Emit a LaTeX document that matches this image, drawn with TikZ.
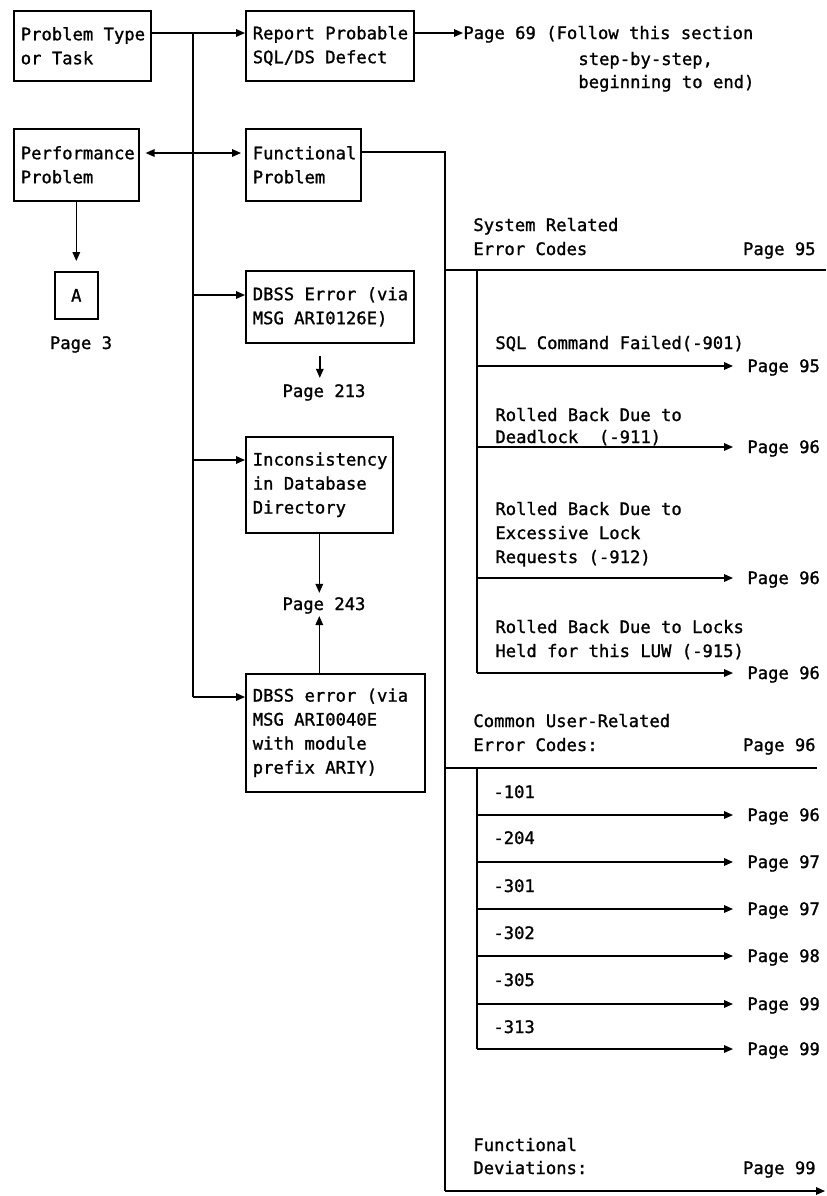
\documentclass[tikz,border=0pt]{standalone}
\usepackage{fontspec}
\newfontfamily\diagmono[WordSpace={1,0,0},FakeBold=1.2]{DejaVu Sans Mono}
\usetikzlibrary{arrows.meta,calc}
\tikzset{
  txt/.style={font=\fontsize{8.6}{12}\selectfont\diagmono, inner sep=0pt},
  box/.style={draw, line width=0.8pt, font=\fontsize{8.6}{12}\selectfont\diagmono,
              inner xsep=3.5pt, inner ysep=0pt, align=left, anchor=north west,
              execute at begin node={\spaceskip=0pt\xspaceskip=0pt}},
  conn/.style={line width=0.7pt},
  arr/.style={conn, -{Triangle[length=4.5pt,width=3.8pt]}},
  darr/.style={conn, {Triangle[length=4.5pt,width=3.8pt]}-{Triangle[length=4.5pt,width=3.8pt]}},
}
\begin{document}
\begin{tikzpicture}[x=0.5pt,y=-0.5pt]
\useasboundingbox (0,0) rectangle (826,1196);

% boxes
\node[box, text width=61.5pt, minimum height=35pt] (ptype) at (13,10) {\mbox{Problem Type}\\\mbox{or Task}};
\node[box, text width=77pt, minimum height=35pt] (report) at (245,10) {\mbox{Report Probable}\\\mbox{SQL/DS Defect}};
\node[box, text width=55.5pt, minimum height=36pt] (perf) at (13,128) {\mbox{Performance}\\\mbox{Problem}};
\node[box, text width=50.5pt, minimum height=36pt] (func) at (245,128) {\mbox{Functional}\\\mbox{Problem}};
\node[box, text width=14.5pt, minimum height=23.5pt, align=center] (A) at (54,271) {A};
\node[box, text width=77pt, minimum height=36pt] (dbss1) at (245,270) {\mbox{DBSS Error (via}\\\mbox{MSG ARI0126E)}};
\node[box, text width=66.5pt, minimum height=48pt] (incons) at (245,436) {\mbox{Inconsistency}\\\mbox{in Database}\\\mbox{Directory}};
\node[box, text width=82.5pt, minimum height=59pt] (dbss2) at (245,673) {\mbox{DBSS error (via}\\\mbox{MSG ARI0040E}\\\mbox{with module}\\\mbox{prefix ARIY)}};

% texts
\node[txt, anchor=base west] (p69a) at (463,39) {Page 69 (Follow this section};
\node[txt, anchor=base west] (p69b) at (578,65) {step-by-step,};
\node[txt, anchor=base west] (p69c) at (578,88) {beginning to end)};
\node[txt, anchor=base] (p3) at (81,349) {Page 3};
\node[txt, anchor=base] (p213) at (324,397) {Page 213};
\node[txt, anchor=base] (p243) at (324,610) {Page 243};

\node[txt, anchor=base west] (sr1) at (473,231) {System Related};
\node[txt, anchor=base west] (sr2) at (473,255) {Error Codes};
\node[txt, anchor=base east] (srp) at (816,255) {Page 95};
\node[txt, anchor=base west] (l901) at (495,349) {SQL Command Failed(-901)};
\node[txt, anchor=base west] (l911a) at (495,421) {Rolled Back Due to};
\node[txt, anchor=base west] (l911b) at (495,443) {Deadlock\ \ (-911)};
\node[txt, anchor=base west] (l912a) at (495,515) {Rolled Back Due to};
\node[txt, anchor=base west] (l912b) at (495,539) {Excessive Lock};
\node[txt, anchor=base west] (l912c) at (495,563) {Requests (-912)};
\node[txt, anchor=base west] (l915a) at (495,633) {Rolled Back Due to Locks};
\node[txt, anchor=base west] (l915b) at (495,657) {Held for this LUW (-915)};

\node[txt, anchor=base west] (cu1) at (473,727) {Common User-Related};
\node[txt, anchor=base west] (cu2) at (473,751) {Error Codes:};
\node[txt, anchor=base east] (cup) at (816,751) {Page 96};
\node[txt, anchor=base west] (c101) at (493,798) {-101};
\node[txt, anchor=base west] (c204) at (493,844) {-204};
\node[txt, anchor=base west] (c301) at (493,892) {-301};
\node[txt, anchor=base west] (c302) at (493,939) {-302};
\node[txt, anchor=base west] (c305) at (493,986) {-305};
\node[txt, anchor=base west] (c313) at (493,1033) {-313};

\node[txt, anchor=base west] (fd1) at (473,1151) {Functional};
\node[txt, anchor=base west] (fd2) at (473,1174) {Deviations:};
\node[txt, anchor=base east] (fdp) at (816,1174) {Page 99};

% top connectors
\draw[arr] ([yshift=-11.5pt]ptype.north east) -- ([yshift=-11.5pt]report.north west);
\coordinate (p69in) at ($(report.north east)+(0,23)$);
\draw[arr] (p69in) -- (p69in -| p69a.west);

\coordinate (trtop) at (193,33);
\coordinate (d1in) at ($(dbss1.north west)+(0,25)$);
\coordinate (icin) at ($(incons.north west)+(0,24)$);
\coordinate (d2in) at ($(dbss2.north west)+(0,24)$);
\draw[conn] (trtop) -- (trtop |- d2in);
\draw[arr] (trtop |- d1in) -- (d1in);
\draw[arr] (trtop |- icin) -- (icin);
\draw[arr] (trtop |- d2in) -- (d2in);

\coordinate (pfo) at ($(perf.north east)+(0,25)$);
\coordinate (fni) at ($(func.north west)+(0,25)$);
\draw[darr, shorten <=3pt, shorten >=2pt] (pfo) -- (fni);

\draw[arr, shorten >=5pt] (perf.south) -- (A.north);

\coordinate (a213s) at ($(dbss1.south)+(-10,12)$);
\draw[arr, shorten >=3pt] (a213s) -- (a213s |- p213.north);
\draw[arr, shorten >=2pt] (incons.south) -- (incons.south |- p243.north);
\draw[arr, shorten >=1pt] (incons.south |- dbss2.north) -- (incons.south |- p243.south);

% right side bus
\coordinate (fout) at ($(func.north east)+(0,24)$);
\coordinate (rbus) at (445,1191);
\coordinate (rend) at (825,1191);
\draw[conn] (fout) -| (rbus);
\draw[arr] (rbus) -- (rend);

\coordinate (h1a) at (445,270);
\coordinate (h1b) at (826,270);
\coordinate (h2a) at (445,768);
\coordinate (h2b) at (817,768);
\draw[conn] (h1a) -- (h1b);
\draw[conn] (h2a) -- (h2b);

\foreach \n/\y/\p in {a/366/95, b/447/96, c/578/96, d/673/96, e/815/96, f/862/97, g/909/97, h/956/98, i/1004/99, j/1049/99} {
  \coordinate (s\n) at (477,\y);
  \coordinate (t\n) at (733,\y);
  \draw[arr] (s\n) -- (t\n);
  \node[txt, anchor=base west] (pg\n) at (747,\y+6) {Page \p};
}
\draw[conn] (sa |- h1a) -- (sd);
\draw[conn] (se |- h2a) -- (sj);
\end{tikzpicture}
\end{document}
